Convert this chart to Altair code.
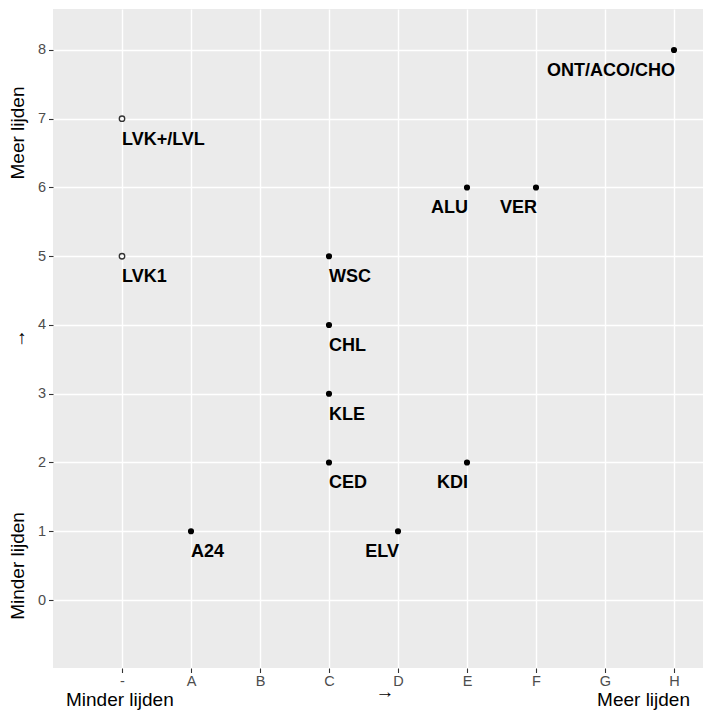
import json
import altair as alt
import pandas as pd

# ---- data ----
x_categories = ["-", "A", "B", "C", "D", "E", "F", "G", "H"]
codes = ["ONT/ACO/CHO", "LVK+/LVL", "ALU", "VER", "LVK1", "WSC",
         "CHL", "KLE", "CED", "KDI", "A24", "ELV"]
x_values = ["H", "-", "E", "F", "-", "C", "C", "C", "C", "E", "A", "D"]
y_values = [8, 7, 6, 6, 5, 5, 4, 3, 2, 2, 1, 1]
y_ticks = [0, 1, 2, 3, 4, 5, 6, 7, 8]
right_side = ["D", "E", "F", "G", "H"]

x_title_low, x_title_mid, x_title_high = "Minder lijden", "→", "Meer lijden"
y_title_low, y_title_mid, y_title_high = "Minder lijden", "↑", "Meer lijden"

df = pd.DataFrame({"code": codes, "x": x_values, "y": y_values})

FONT = "Liberation Sans"
W, H = 650, 659

cat_expr = json.dumps(x_categories)
right_expr = json.dumps(right_side)

base = alt.Chart(df).transform_calculate(
    xi=f"indexof({cat_expr}, datum.x)"
)

common_axis = dict(
    grid=True, gridColor="white", gridWidth=1.4, domain=False,
    ticks=True, tickColor="#333333", tickSize=4.5, tickWidth=1.1,
    labelColor="#4D4D4D", labelFontSize=14.5, labelFont=FONT, title=None,
)

xenc = alt.X("xi:Q",
             scale=alt.Scale(domain=[-1.0, -1.0 + W / 69.0], nice=False, zero=False),
             axis=alt.Axis(values=list(range(len(x_categories))),
                           labelExpr=f"{cat_expr}[datum.value]",
                           labelPadding=2, **common_axis))
yenc = alt.Y("y:Q",
             scale=alt.Scale(domain=[-0.989, 8.596], nice=False, zero=False),
             axis=alt.Axis(values=y_ticks, labelPadding=3, **common_axis))

filled = base.transform_filter("datum.x != '-'").mark_point(
    filled=True, color="black", size=38, opacity=1
).encode(x=xenc, y=yenc)

hollow = base.transform_filter("datum.x == '-'").mark_point(
    filled=False, color="#333333", size=30, strokeWidth=1.3, opacity=1
).encode(x=xenc, y=yenc)

lab_left = base.transform_filter(f"indexof({right_expr}, datum.x) < 0").mark_text(
    align="left", baseline="alphabetic", dy=26, fontSize=18, fontWeight="bold",
    font=FONT, color="black"
).encode(x=xenc, y=yenc, text="code:N")

lab_right = base.transform_filter(f"indexof({right_expr}, datum.x) >= 0").mark_text(
    align="right", baseline="alphabetic", dy=26, dx=1, fontSize=18, fontWeight="bold",
    font=FONT, color="black"
).encode(x=xenc, y=yenc, text="code:N")


def title_text(txt, x, y, align="center", baseline="alphabetic", angle=0):
    return alt.Chart(pd.DataFrame({"t": [txt]})).mark_text(
        align=align, baseline=baseline, angle=angle, fontSize=19,
        font=FONT, color="black"
    ).encode(x=alt.value(x), y=alt.value(y), text="t:N")


titles = [
    title_text(x_title_low, 13, 697, align="left"),
    title_text(x_title_mid, 332, 683, baseline="middle"),
    title_text(x_title_high, 637, 697, align="right"),
    title_text(y_title_high, -35, 124, baseline="middle", angle=270),
    title_text(y_title_mid, -31, 329, baseline="middle"),
    title_text(y_title_low, -35, 557, baseline="middle", angle=270),
]

chart = alt.layer(filled, hollow, lab_left, lab_right, *titles).properties(
    width=W, height=H,
    autosize=alt.AutoSizeParams(type="none"),
    padding={"left": 45, "top": 1, "right": 0, "bottom": 44},
    background="white",
).configure_view(fill="#EBEBEB", stroke=None)

chart.save("out.html", embed_options={"renderer": "svg", "actions": False})
